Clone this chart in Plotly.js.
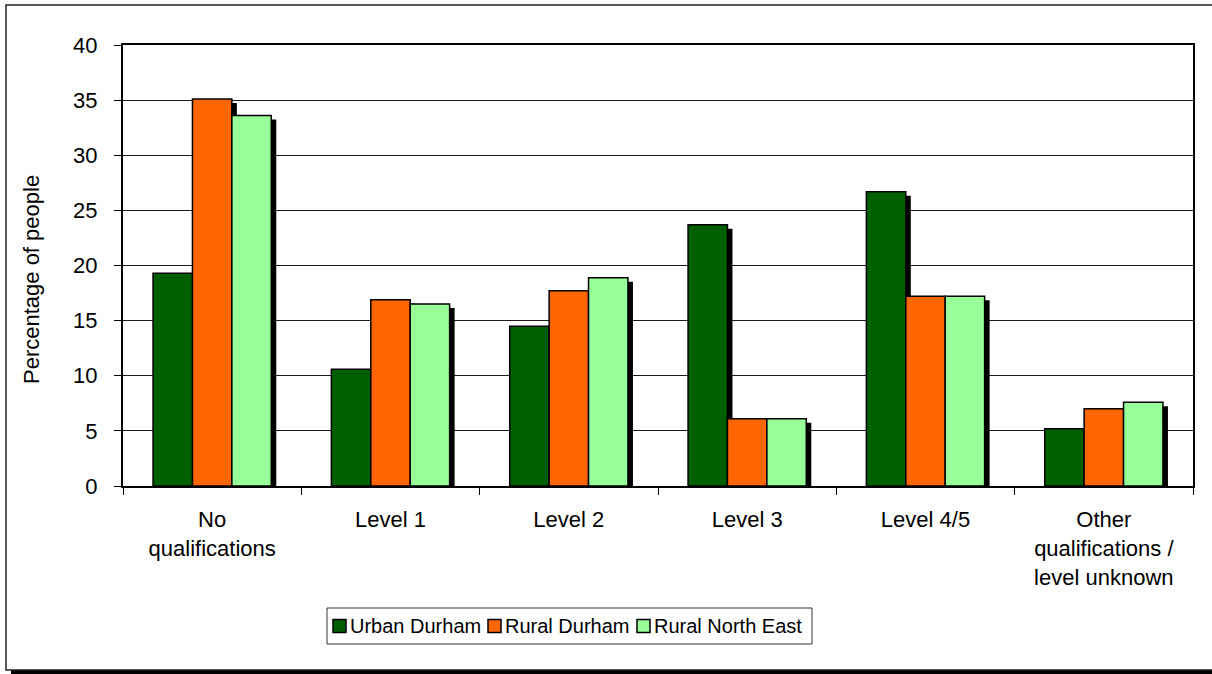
<!DOCTYPE html>
<html><head><meta charset="utf-8">
<script src="https://cdn.plot.ly/plotly-3.0.1.min.js"></script>
<style>html,body{margin:0;padding:0;background:#fff}#chart{width:1212px;height:674px}</style>
</head><body><div id="chart"></div>
<script>
// ---- data ----
const categories = ["No<br>qualifications", "Level 1", "Level 2", "Level 3", "Level 4/5", "Other<br>qualifications /<br>level unknown"];
const seriesNames = ["Urban Durham", "Rural Durham", "Rural North East"];
const urbanDurham = [19.3, 10.6, 14.5, 23.7, 26.7, 5.2];
const ruralDurham = [35.1, 16.9, 17.7, 6.1, 17.2, 7.0];
const ruralNorthEast = [33.6, 16.5, 18.9, 6.1, 17.2, 7.6];
const yTicks = [0, 5, 10, 15, 20, 25, 30, 35, 40];
const yTitle = "Percentage of people";

// ---- style / layout ----
const seriesColors = ["#005F00", "#FF6600", "#99FF99"];
const W = 1212, H = 674, ml = 123, mr = 19, mt = 45, mb = 188;
const pw = W - ml - mr, ph = H - mt - mb;
const px2x = p => (p - ml) / pw;
const py2y = p => 1 - (p - mt) / ph;
const yMin = 0, yMax = 40;
const shadowDx = 5, shadowDy = 4;
const nCat = categories.length;
const catPx = pw / nCat;
const xShift = shadowDx / catPx;
const yShift = shadowDy * (yMax - yMin) / ph;
const font = "Liberation Sans, Arial, sans-serif";

const allSeries = [urbanDurham, ruralDurham, ruralNorthEast];
const traces = [];
// shadows on base axes (shifted ranges)
allSeries.forEach((vals, i) => {
  traces.push({
    type: "bar", x: categories, y: vals, name: seriesNames[i] + " shadow",
    xaxis: "x", yaxis: "y", showlegend: false, hoverinfo: "skip",
    marker: { color: "#000", line: { width: 0 } }
  });
});
// real bars on overlay axes
allSeries.forEach((vals, i) => {
  traces.push({
    type: "bar", x: categories, y: vals, name: seriesNames[i],
    xaxis: "x2", yaxis: "y2", showlegend: false,
    marker: { color: seriesColors[i], line: { color: "#000", width: 1.5 } }
  });
});

// custom legend
const legendBox = { x0: 327, x1: 812, y0: 608, y1: 644 };
const legendItems = [333, 488, 637]; // swatch left px
const sw = 13;
const shapes = [
  // outer frame shadow
  { type: "rect", xref: "paper", yref: "paper", x0: px2x(11), x1: px2x(1220), y0: py2y(675), y1: py2y(670),
    fillcolor: "#000", line: { width: 0 }, layer: "below" },
  // outer frame
  { type: "rect", xref: "paper", yref: "paper", x0: px2x(6), x1: px2x(1220), y0: py2y(670), y1: py2y(5),
    line: { color: "#222", width: 1.5 }, fillcolor: "rgba(0,0,0,0)", layer: "below" },
  // legend box
  { type: "rect", xref: "paper", yref: "paper", x0: px2x(legendBox.x0), x1: px2x(legendBox.x1),
    y0: py2y(legendBox.y1), y1: py2y(legendBox.y0), line: { color: "#333", width: 1 }, fillcolor: "#fff" }
];
const annotations = [
  { xref: "paper", yref: "paper", x: px2x(31), y: py2y(280), text: yTitle, textangle: -90,
    showarrow: false, xanchor: "center", yanchor: "middle", font: { family: font, size: 22, color: "#000" } }
];
const legendCy = 626;
seriesNames.forEach((nm, i) => {
  const sx = legendItems[i];
  shapes.push({ type: "rect", xref: "paper", yref: "paper", x0: px2x(sx), x1: px2x(sx + sw),
    y0: py2y(legendCy + sw / 2), y1: py2y(legendCy - sw / 2),
    fillcolor: seriesColors[i], line: { color: "#000", width: 1.5 } });
  annotations.push({ xref: "paper", yref: "paper", x: px2x(sx + sw + 2), y: py2y(legendCy), text: nm,
    showarrow: false, xanchor: "left", yanchor: "middle", font: { family: font, size: 20, color: "#000" } });
});

const layout = {
  width: W, height: H, margin: { l: ml, r: mr, t: mt, b: mb, pad: 0 },
  paper_bgcolor: "#fff", plot_bgcolor: "rgba(0,0,0,0)",
  showlegend: false, barmode: "group", bargap: 0.337, bargroupgap: 0,
  font: { family: font, size: 22, color: "#000" },
  xaxis: { type: "category", range: [-0.5 - xShift, nCat - 0.5 - xShift], visible: false, fixedrange: true },
  yaxis: { range: [yMin + yShift, yMax + yShift], visible: false, fixedrange: true },
  xaxis2: { type: "category", overlaying: "x", side: "bottom", range: [-0.5, nCat - 0.5],
    tickson: "boundaries", ticks: "outside", ticklen: 7, tickwidth: 1, tickcolor: "#000",
    ticklabelstandoff: 13,
    showline: true, linecolor: "#000", linewidth: 2, mirror: true, showgrid: false,
    tickfont: { family: font, size: 22, color: "#000" }, automargin: false },
  yaxis2: { overlaying: "y", side: "left", range: [yMin, yMax], tickvals: yTicks, ticktext: yTicks.map(String),
    ticks: "outside", ticklen: 7, tickwidth: 1, tickcolor: "#000", ticklabelstandoff: 12,
    showline: true, linecolor: "#000", linewidth: 2, mirror: true,
    showgrid: true, gridcolor: "#1a1a1a", gridwidth: 1, zeroline: false,
    tickfont: { family: font, size: 22, color: "#000" }, automargin: false },
  shapes: shapes, annotations: annotations
};

Plotly.newPlot("chart", traces, layout, { staticPlot: true, displayModeBar: false });
</script>
</body></html>
